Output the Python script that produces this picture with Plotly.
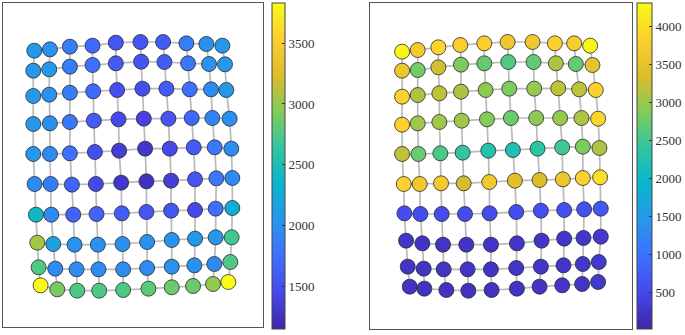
import plotly.graph_objects as go

# ---------------- data ----------------
# Node positions (layout units) for the left network, 10 rows x 10 columns
left_x = [
    [103,150,210,278,348,422,490,560,620,668],
    [100,148,210,278,348,424,494,565,628,676],
    [100,148,210,280,352,428,500,570,634,680],
    [100,150,210,282,356,432,506,576,638,690],
    [100,150,210,285,358,436,510,582,645,695],
    [104,152,216,288,364,440,514,586,650,698],
    [108,154,220,290,366,440,514,586,648,698],
    [112,160,224,294,368,442,516,586,648,696],
    [116,166,230,296,370,442,516,584,644,692],
    [122,172,232,298,370,446,516,580,640,686]]
left_y = [
    [152,148,140,137,128,126,126,130,132,137],
    [212,208,200,195,190,185,186,190,192,193],
    [288,284,278,274,270,266,266,268,268,270],
    [372,370,366,362,358,356,356,354,354,356],
    [462,462,460,456,452,446,446,442,442,446],
    [552,552,554,552,548,544,542,538,535,534],
    [644,644,644,642,640,636,632,630,626,624],
    [728,732,734,734,732,726,720,716,712,712],
    [802,806,808,808,808,804,800,796,792,786],
    [856,868,872,872,870,866,862,858,852,846]]
left_val = [
    [2050,2000,1850,1700,1550,1550,1600,1850,2000,2050],
    [2050,2050,1850,1750,1600,1550,1600,1800,2000,2050],
    [2050,2000,1850,1700,1500,1500,1600,1750,1950,2050],
    [2050,2000,1800,1600,1450,1400,1550,1700,1900,2000],
    [2050,1950,1750,1500,1350,1300,1450,1600,1800,1950],
    [1950,1850,1650,1450,1300,1250,1350,1550,1800,1950],
    [2400,1950,1650,1650,1600,1550,1550,1450,1750,2250],
    [3050,2150,2000,2000,1980,2000,2000,2050,2050,2700],
    [2750,1950,1950,1950,1950,1950,2000,2000,1950,2750],
    [3850,2900,2750,2750,2750,2800,2850,2850,3000,3850]]

# Node positions for the right network
right_x = [
    [143,190,252,318,390,460,535,602,660,708],
    [143,190,252,320,390,462,538,605,665,715],
    [143,190,255,320,394,465,540,612,675,725],
    [143,190,255,322,398,470,546,618,682,732],
    [143,192,258,325,402,476,550,624,686,736],
    [148,196,260,328,405,482,556,626,686,738],
    [150,198,262,332,406,486,560,630,690,740],
    [155,204,266,336,410,488,562,630,688,740],
    [160,208,268,340,410,486,560,628,686,734],
    [166,210,276,342,412,488,556,624,684,732]]
right_y = [
    [155,150,142,135,130,126,126,130,130,137],
    [212,210,202,194,190,186,186,190,192,195],
    [290,285,280,275,270,266,266,265,268,270],
    [374,370,366,362,358,354,354,354,354,356],
    [462,462,460,458,452,450,446,442,440,444],
    [552,552,550,550,546,542,540,538,534,532],
    [640,642,642,642,640,636,632,630,628,626],
    [722,730,734,734,734,730,722,716,714,710],
    [800,806,808,808,808,804,800,796,792,786],
    [860,866,870,872,870,866,860,856,852,846]]
right_val = [
    [4250,3700,3900,3800,3800,3650,3650,3850,3750,4250],
    [3600,2800,3300,2850,2700,2600,2700,3100,2700,3500],
    [3850,3100,3200,3100,2950,2850,3000,3200,3200,3850],
    [3850,3050,3050,3050,2900,2750,2950,3000,3100,3900],
    [3200,2750,2550,2400,2250,2200,2350,2500,2850,3100],
    [3850,3650,3700,3300,3700,3450,3350,3600,3850,4000],
    [560,560,540,540,540,560,580,580,620,680],
    [230,220,210,210,210,220,240,250,260,280],
    [220,220,210,210,210,220,240,250,260,280],
    [200,200,190,190,190,200,220,230,250,270]]

left_range = [1146, 3832]
right_range = [12, 4313]
left_ticks = [1500, 2000, 2500, 3000, 3500]
right_ticks = [500, 1000, 1500, 2000, 2500, 3000, 3500, 4000]

# ---------------- style ----------------
parula10 = [
    (0.2422, 0.1504, 0.6603), (0.2803, 0.2782, 0.9221), (0.2440, 0.4358, 0.9988),
    (0.1540, 0.5902, 0.9218), (0.0297, 0.7082, 0.8163), (0.1938, 0.7758, 0.6251),
    (0.5044, 0.7993, 0.3480), (0.8634, 0.7406, 0.1596), (0.9892, 0.8136, 0.1885),
    (0.9769, 0.9839, 0.0805)]
parula = [[i / 9, "rgb(%d,%d,%d)" % tuple(round(c * 255) for c in col)]
          for i, col in enumerate(parula10)]

W, H = 685, 335
TICKFONT = dict(family="Liberation Serif, Times New Roman, serif", size=13, color="#333")


def edges(X, Y):
    ex, ey = [], []
    n, m = len(X), len(X[0])
    for r in range(n):
        for c in range(m):
            if c + 1 < m:
                ex += [X[r][c], X[r][c + 1], None]
                ey += [Y[r][c], Y[r][c + 1], None]
            if r + 1 < n:
                ex += [X[r][c], X[r + 1][c], None]
                ey += [Y[r][c], Y[r + 1][c], None]
    return ex, ey


def flat(a):
    return [v for row in a for v in row]


fig = go.Figure()

panels = [
    (left_x, left_y, left_val, left_range, left_ticks, "x", "y", 272, 13),
    (right_x, right_y, right_val, right_range, right_ticks, "x2", "y2", 637, 15),
]
for X, Y, V, rng, ticks, xa, ya, cbx, cbw in panels:
    ex, ey = edges(X, Y)
    fig.add_trace(go.Scatter(x=ex, y=ey, mode="lines", xaxis=xa, yaxis=ya,
                             line=dict(color="rgba(140,140,140,0.6)", width=1.7),
                             hoverinfo="skip", showlegend=False))
    fig.add_trace(go.Scatter(
        x=flat(X), y=flat(Y), mode="markers", xaxis=xa, yaxis=ya, showlegend=False,
        marker=dict(size=15, color=flat(V), cmin=rng[0], cmax=rng[1],
                    colorscale=parula, line=dict(color="#2a2a2a", width=0.8),
                    showscale=True,
                    colorbar=dict(x=cbx / W, xanchor="left", xpad=0, ypad=0,
                                  y=1 - 3 / H, yanchor="top", len=326, lenmode="pixels",
                                  thickness=cbw, thicknessmode="pixels",
                                  outlinewidth=1, outlinecolor="#444",
                                  tickvals=ticks, ticks="inside", ticklen=3,
                                  tickcolor="#333", tickfont=TICKFONT))))

axis_common = dict(showgrid=False, zeroline=False, showticklabels=False, ticks="",
                   showline=True, mirror=True, linecolor="#555", linewidth=1)

fig.update_layout(
    width=W, height=H, margin=dict(l=0, r=0, t=0, b=0),
    paper_bgcolor="white", plot_bgcolor="white",
    xaxis=dict(domain=[3 / W, 263 / W], range=[9, 789], **axis_common),
    yaxis=dict(domain=[(H - 327) / H, (H - 3) / H], range=[981, 9], **axis_common),
    xaxis2=dict(domain=[371 / W, 633 / W], range=[48, 834], **axis_common),
    yaxis2=dict(domain=[(H - 329) / H, (H - 3) / H], range=[987, 9], anchor="x2",
                **axis_common),
)
fig.layout.xaxis2.anchor = "y2"

fig.write_html("out.html", config={"displayModeBar": False},
               post_script="document.body.style.margin='0px';"
                           "document.body.style.overflow='hidden';")
